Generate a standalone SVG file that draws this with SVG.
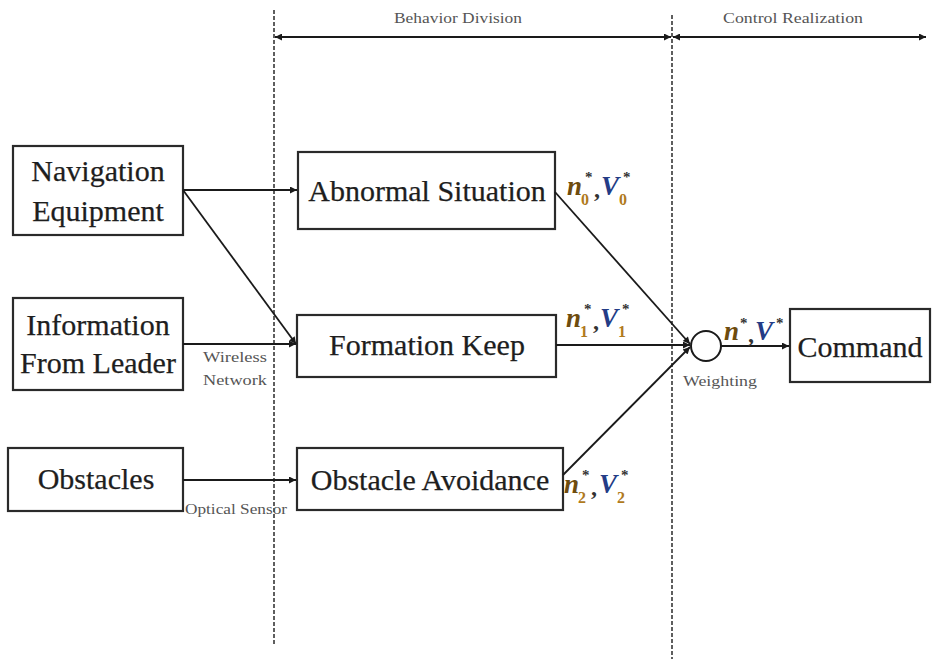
<svg xmlns="http://www.w3.org/2000/svg" width="936" height="659" viewBox="0 0 936 659">
  <defs>
    <marker id="arrow" viewBox="0 0 10 10" refX="10" refY="5" markerWidth="9" markerHeight="7" markerUnits="userSpaceOnUse" orient="auto-start-reverse">
      <path d="M0,0 L10,5 L0,10 Z" fill="#1a1a1a"/>
    </marker>
    <style>
      .box { fill: #fff; stroke: #2a2a2a; stroke-width: 2.2; }
      .label { font-family: "Liberation Serif", "Times New Roman", serif; font-size: 30px; fill: #1e1e1e; stroke: #1e1e1e; stroke-width: 0.25; text-anchor: middle; }
      .note { font-family: "Liberation Serif", "Times New Roman", serif; font-size: 15px; fill: #555; }
      .wire { fill: none; stroke: #1a1a1a; stroke-width: 1.8; marker-end: url(#arrow); }
      .span { fill: none; stroke: #1a1a1a; stroke-width: 1.8; marker-start: url(#arrow); marker-end: url(#arrow); }
      .divider { fill: none; stroke: #2a2a2a; stroke-width: 1.5; stroke-dasharray: 4 2; }
      .var { font-family: "Liberation Serif", "Times New Roman", serif; font-weight: bold; font-style: italic; font-size: 27px; }
      .n { fill: #6e4c0e; }
      .v { fill: #243c86; }
      .sub { font-family: "Liberation Serif", "Times New Roman", serif; font-weight: bold; font-size: 16px; fill: #b07a1c; }
      .sup { font-family: "Liberation Serif", "Times New Roman", serif; font-weight: bold; font-size: 15px; fill: #333; }
      .comma { font-family: "Liberation Serif", "Times New Roman", serif; font-weight: bold; font-size: 24px; fill: #333; }
    </style>
  </defs>

  <rect width="936" height="659" fill="#fff"/>

  <!-- phase dividers and spans -->
  <g id="phases">
    <line class="divider" x1="274" y1="10" x2="274" y2="645"/>
    <line class="divider" x1="672" y1="15" x2="672" y2="659"/>
    <line class="span" x1="275" y1="37" x2="671" y2="37"/>
    <line class="span" x1="673" y1="37" x2="926" y2="37"/>
    <text class="note" x="458" y="23" text-anchor="middle" textLength="128" lengthAdjust="spacingAndGlyphs">Behavior Division</text>
    <text class="note" x="793" y="23" text-anchor="middle" textLength="140" lengthAdjust="spacingAndGlyphs">Control Realization</text>
  </g>

  <!-- inputs -->
  <g id="navigation">
    <rect class="box" x="13" y="146" width="170" height="89"/>
    <text class="label" x="98" y="181">Navigation</text>
    <text class="label" x="98" y="221">Equipment</text>
  </g>
  <g id="leader">
    <rect class="box" x="13" y="298" width="170" height="92"/>
    <text class="label" x="98" y="335">Information</text>
    <text class="label" x="98" y="373">From Leader</text>
  </g>
  <g id="obstacles">
    <rect class="box" x="8" y="448" width="175" height="63"/>
    <text class="label" x="96" y="489">Obstacles</text>
  </g>

  <!-- behaviors -->
  <g id="abnormal">
    <rect class="box" x="298" y="152" width="257" height="77"/>
    <text class="label" x="427" y="201">Abnormal Situation</text>
  </g>
  <g id="formation">
    <rect class="box" x="297" y="315" width="259" height="62"/>
    <text class="label" x="427" y="355">Formation Keep</text>
  </g>
  <g id="avoidance">
    <rect class="box" x="297" y="448" width="266" height="62"/>
    <text class="label" x="430" y="490">Obstacle Avoidance</text>
  </g>

  <!-- weighting and output -->
  <g id="weighting">
    <circle cx="706" cy="346" r="15" fill="#fff" stroke="#1a1a1a" stroke-width="2"/>
    <text class="note" x="683" y="386" textLength="74" lengthAdjust="spacingAndGlyphs">Weighting</text>
  </g>
  <g id="command">
    <rect class="box" x="790" y="309" width="140" height="73"/>
    <text class="label" x="860" y="357">Command</text>
  </g>

  <!-- connectors -->
  <g id="connectors">
    <line class="wire" x1="183" y1="190" x2="297" y2="190"/>
    <line class="wire" x1="183" y1="190" x2="296" y2="344"/>
    <line class="wire" x1="183" y1="344" x2="296" y2="344"/>
    <line class="wire" x1="183" y1="480" x2="296" y2="480"/>
    <line class="wire" x1="555" y1="192" x2="690" y2="344"/>
    <line class="wire" x1="556" y1="345" x2="690" y2="345"/>
    <line class="wire" x1="563" y1="475" x2="690" y2="347"/>
    <line class="wire" x1="721" y1="346" x2="789" y2="346"/>
    <text class="note" x="203" y="362" textLength="64" lengthAdjust="spacingAndGlyphs">Wireless</text>
    <text class="note" x="203" y="385" textLength="64" lengthAdjust="spacingAndGlyphs">Network</text>
    <text class="note" x="185" y="514" textLength="102" lengthAdjust="spacingAndGlyphs">Optical Sensor</text>
  </g>

  <!-- behavior outputs -->
  <g id="out-abnormal">
    <text class="var n" x="567" y="195">n</text>
    <text class="sup" x="585" y="182">*</text>
    <text class="sub" x="581" y="205">0</text>
    <text class="comma" x="594" y="197">,</text>
    <text class="var v" x="601" y="195">V</text>
    <text class="sup" x="623" y="182">*</text>
    <text class="sub" x="619" y="205">0</text>
  </g>
  <g id="out-formation">
    <text class="var n" x="566" y="327">n</text>
    <text class="sup" x="584" y="314">*</text>
    <text class="sub" x="580" y="337">1</text>
    <text class="comma" x="593" y="329">,</text>
    <text class="var v" x="600" y="327">V</text>
    <text class="sup" x="622" y="314">*</text>
    <text class="sub" x="618" y="337">1</text>
  </g>
  <g id="out-avoidance">
    <text class="var n" x="564" y="493">n</text>
    <text class="sup" x="582" y="480">*</text>
    <text class="sub" x="578" y="503">2</text>
    <text class="comma" x="591" y="495">,</text>
    <text class="var v" x="599" y="493">V</text>
    <text class="sup" x="621" y="480">*</text>
    <text class="sub" x="617" y="503">2</text>
  </g>
  <g id="out-total">
    <text class="var n" x="724" y="340">n</text>
    <text class="sup" x="740" y="328">*</text>
    <text class="comma" x="748" y="342">,</text>
    <text class="var v" x="755" y="340">V</text>
    <text class="sup" x="776" y="328">*</text>
  </g>
</svg>
